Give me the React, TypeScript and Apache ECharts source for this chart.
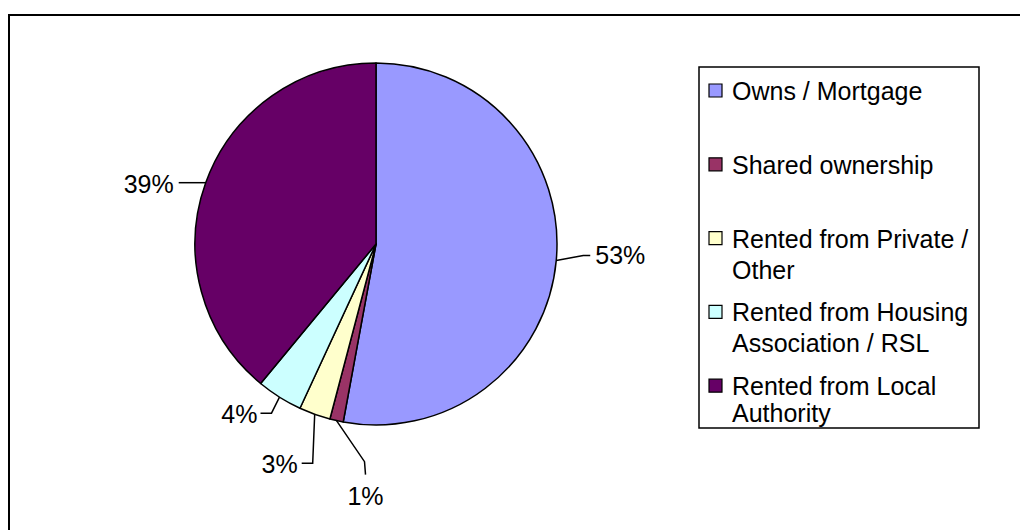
import React, { useEffect, useRef } from "react";
import * as echarts from "echarts";

// ---------- data ----------
const categories = [
  "Owns / Mortgage",
  "Shared ownership",
  "Rented from Private / Other",
  "Rented from Housing Association / RSL",
  "Rented from Local Authority",
];
const legendLabels = [
  "Owns / Mortgage",
  "Shared ownership",
  "Rented from Private /\nOther",
  "Rented from Housing\nAssociation / RSL",
  "Rented from Local\nAuthority",
];
const values = [52.9, 1.2, 2.8, 4.1, 39.0];
const colors = ["#9999FF", "#993366", "#FFFFCC", "#CCFFFF", "#660066"];

// ---------- layout / style ----------
const FONT = '"Liberation Sans", Arial, sans-serif';
const FS = 25;
const CX = 376;
const CY = 244;
const R = 181;

// leader line bends relative to the slice edge point, and text placement
const LEADERS: { p1: number[]; p2: number[]; align: string; tdx: number; tdy: number }[] = [
  { p1: [27, -5], p2: [34, -5], align: "left", tdx: 5, tdy: 0 },
  { p1: [28, 41], p2: [29, 54], align: "center", tdx: 0, tdy: 21 },
  { p1: [-2, 49], p2: [-13, 49], align: "right", tdx: -4, tdy: 1 },
  { p1: [-8, 16], p2: [-19, 16], align: "right", tdx: -3, tdy: 1 },
  { p1: [-16, 0], p2: [-27, 0], align: "right", tdx: -5, tdy: 1 },
];

const LEGEND_BOX = { x: 699, y: 67, w: 280, h: 361 };
const LEGEND_FIRST_Y = 91;
const LEGEND_STEP = 73.8;
const LEGEND_LINE_H = [31, 31, 31, 31, 27];

function edgePoint(i: number): number[] {
  const total = values.reduce((a, b) => a + b, 0);
  let before = 0;
  for (let k = 0; k < i; k++) before += values[k];
  const mid = ((before + values[i] / 2) / total) * Math.PI * 2;
  return [CX + R * Math.sin(mid), CY - R * Math.cos(mid)];
}

export default function App() {
  const ref = useRef<HTMLDivElement>(null);

  useEffect(() => {
    if (!ref.current) return;
    const chart = echarts.init(ref.current, null, { renderer: "svg" });

    const legendChildren: any[] = [];
    legendLabels.forEach((lbl, i) => {
      const cy = LEGEND_FIRST_Y + i * LEGEND_STEP;
      legendChildren.push({
        type: "rect",
        shape: { x: 709, y: cy - 7, width: 13, height: 13 },
        style: { fill: colors[i], stroke: "#000", lineWidth: 1.2 },
      });
      legendChildren.push({
        type: "text",
        x: 732,
        y: cy - LEGEND_LINE_H[i] / 2,
        style: {
          text: lbl,
          font: `${FS}px ${FONT}`,
          fill: "#000",
          lineHeight: LEGEND_LINE_H[i],
          verticalAlign: "top",
          align: "left",
        },
      });
    });

    chart.setOption({
      animation: false,
      backgroundColor: "#ffffff",
      graphic: [
        {
          type: "rect",
          silent: true,
          shape: { x: 9, y: 15, width: 1100, height: 600 },
          style: { fill: "none", stroke: "#000", lineWidth: 2 },
        },
        {
          type: "rect",
          silent: true,
          shape: { x: LEGEND_BOX.x, y: LEGEND_BOX.y, width: LEGEND_BOX.w, height: LEGEND_BOX.h },
          style: { fill: "#fff", stroke: "#000", lineWidth: 1.5 },
        },
        { type: "group", silent: true, children: legendChildren },
      ],
      series: [
        {
          type: "pie",
          center: [CX, CY],
          radius: R,
          startAngle: 90,
          clockwise: true,
          percentPrecision: 0,
          silent: true,
          emphasis: { disabled: true },
          itemStyle: { borderColor: "#000", borderWidth: 1.5 },
          label: {
            show: true,
            position: "outside",
            formatter: "{d}%",
            fontSize: FS,
            fontFamily: FONT,
            color: "#000",
          },
          labelLine: { show: true, length: 15, length2: 12, lineStyle: { color: "#000", width: 1.5 } },
          labelLayout: (params: any) => {
            const i = params.dataIndex;
            const e = edgePoint(i);
            const L = LEADERS[i];
            const p1 = [e[0] + L.p1[0], e[1] + L.p1[1]];
            const p2 = [e[0] + L.p2[0], e[1] + L.p2[1]];
            return {
              x: p2[0] + L.tdx,
              y: p2[1] + L.tdy,
              align: L.align,
              verticalAlign: "middle",
              labelLinePoints: [e, p1, p2],
            };
          },
          data: categories.map((name, i) => ({
            name,
            value: values[i],
            itemStyle: { color: colors[i] },
          })),
        },
      ],
    });

    return () => chart.dispose();
  }, []);

  return (
    <div
      ref={ref}
      style={{ position: "absolute", left: 0, top: 0, width: 1020, height: 530 }}
    />
  );
}
